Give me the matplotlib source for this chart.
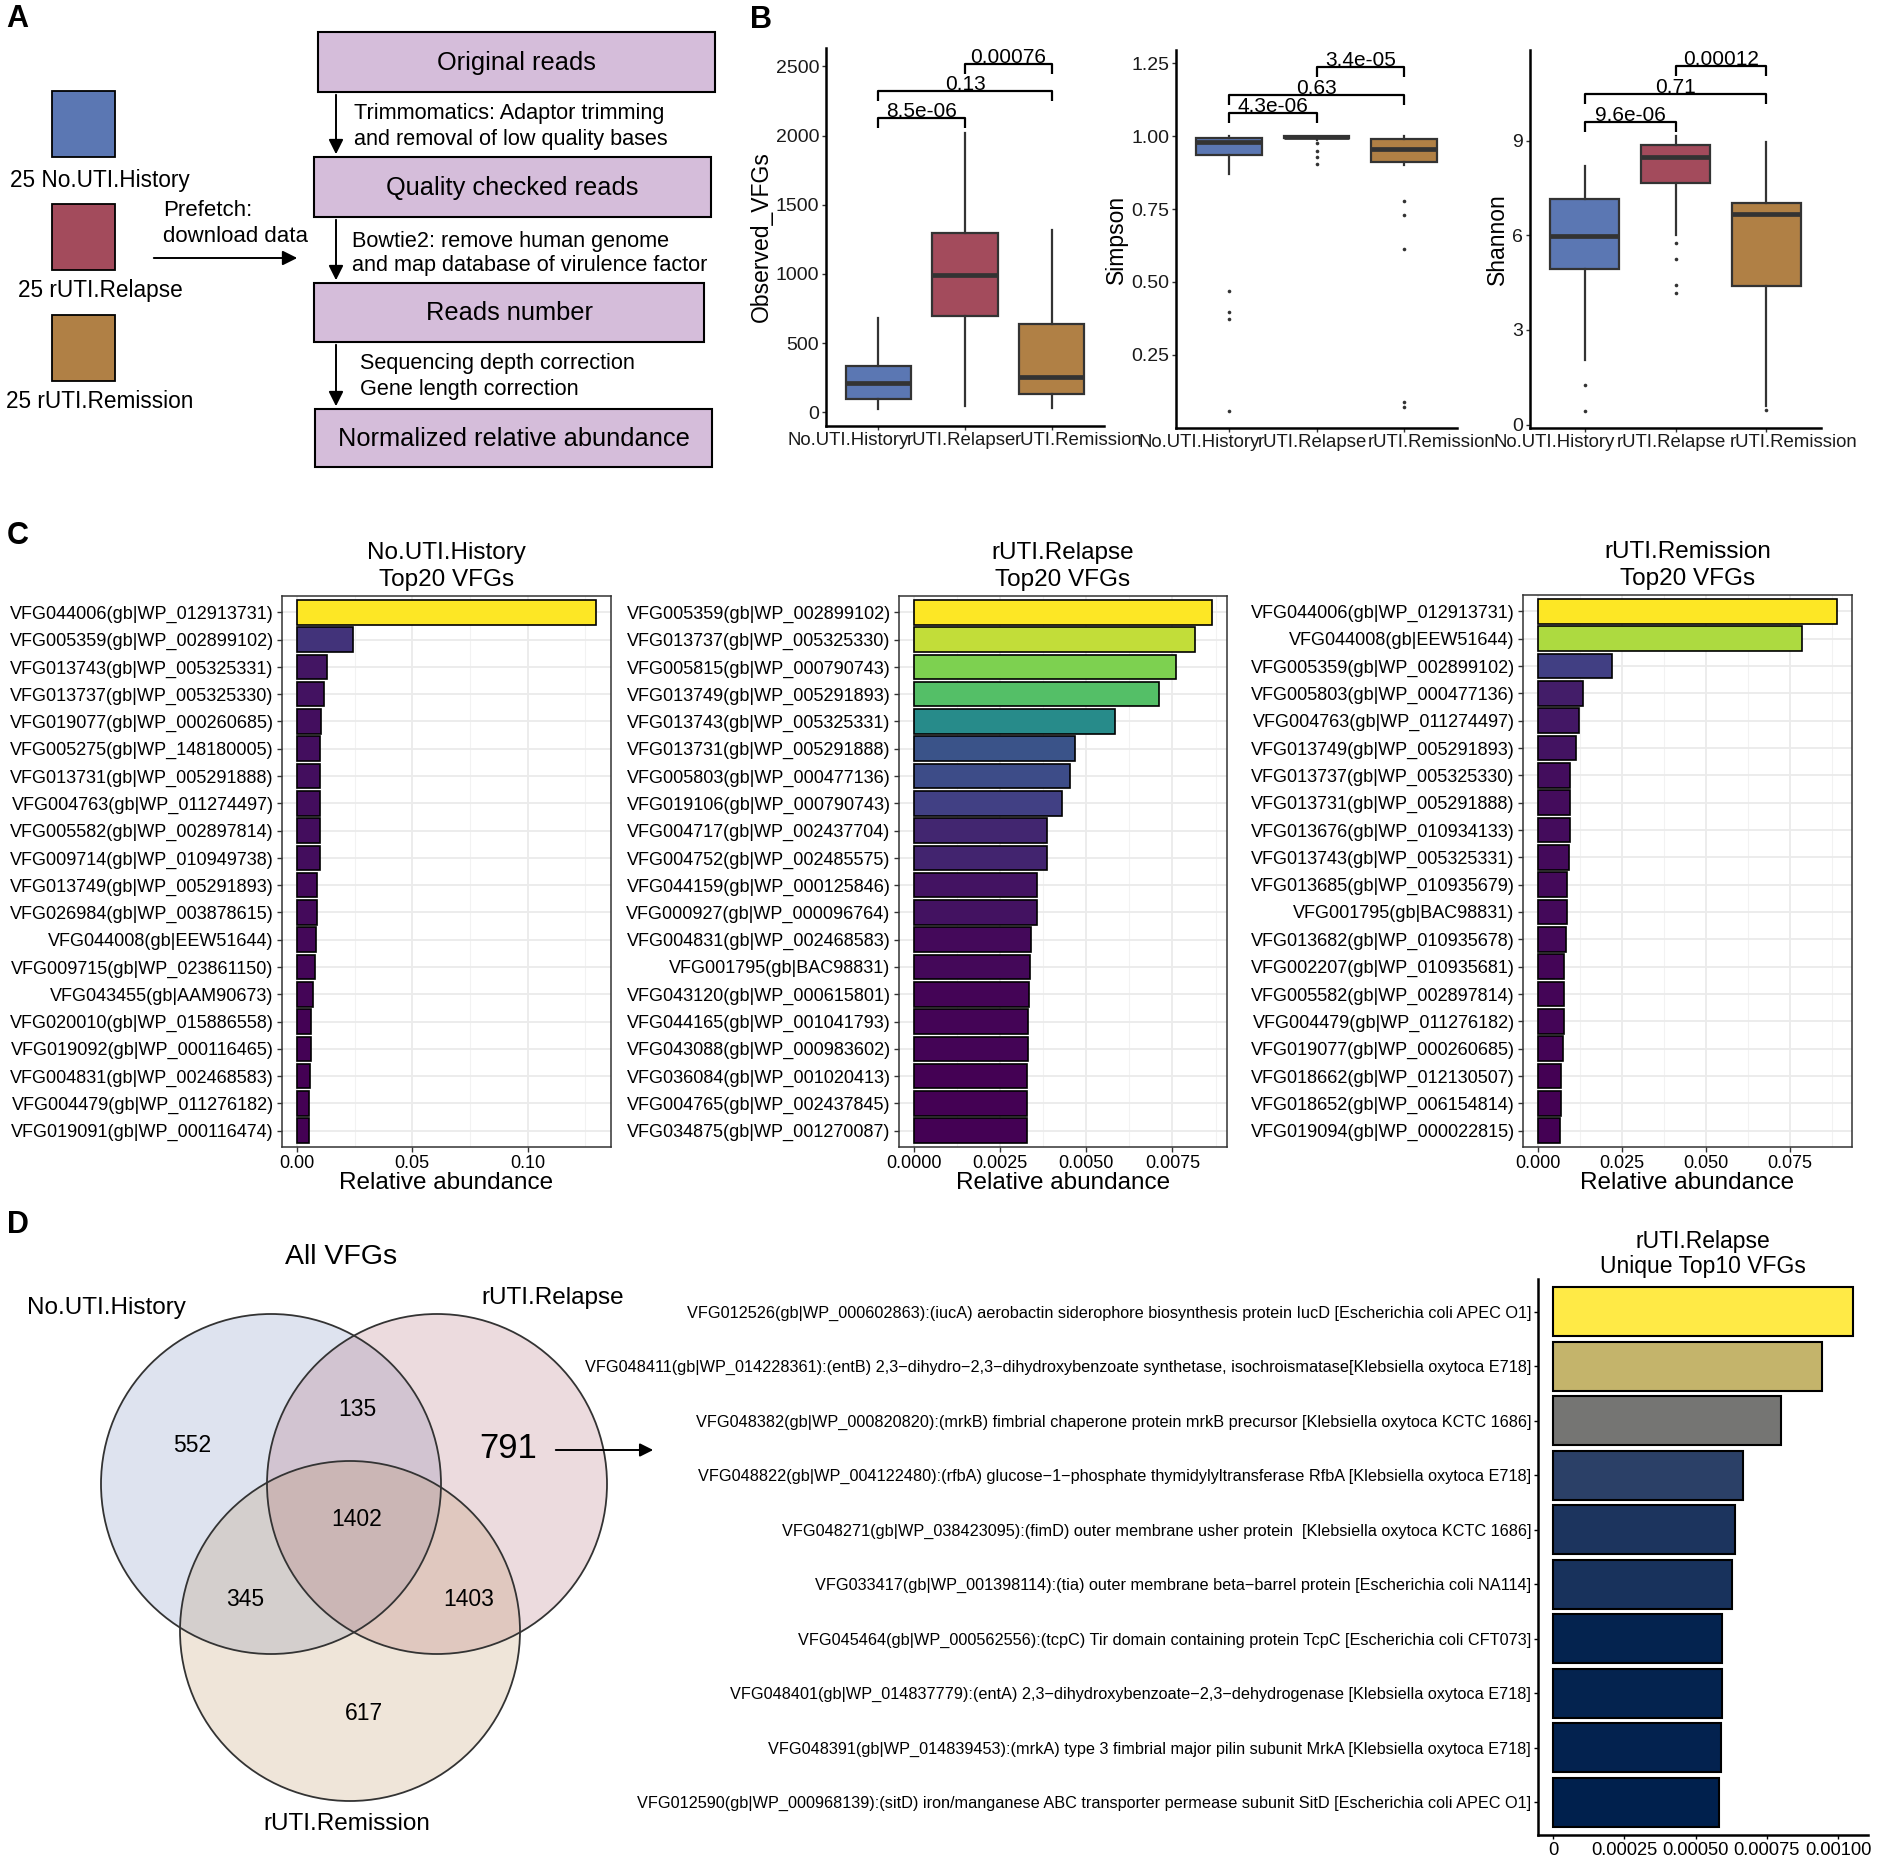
import numpy as np
import matplotlib
matplotlib.use('Agg')
import matplotlib.pyplot as plt
from matplotlib.patches import Rectangle, Circle
from matplotlib import transforms, colors

plt.rcParams['font.family'] = ['Liberation Sans', 'DejaVu Sans']

W, H = 1902, 1866

# ---------------- data ----------------
groups = ['No.UTI.History', 'rUTI.Relapse', 'rUTI.Remission']
group_n = [25, 25, 25]
group_colors = ['#5B77B3', '#A34B5C', '#B08045']

# panel B - box summaries (q1, median, q3, whisker low, whisker high, outliers)
obs_q1 = [99, 697, 133]
obs_med = [210, 991, 253]
obs_q3 = [337, 1295, 636]
obs_lo = [24, 48, 31]
obs_hi = [680, 2018, 1319]
obs_fliers = [[], [], []]
obs_pvals = ['8.5e-06', '0.13', '0.00076']
obs_bracket_y = [2126, 2324, 2519]

simp_q1 = [0.937, 0.993, 0.910]
simp_med = [0.980, 0.997, 0.956]
simp_q3 = [0.995, 0.999, 0.990]
simp_lo = [0.870, 0.988, 0.900]
simp_hi = [1.000, 1.000, 1.000]
simp_fliers = [[0.470, 0.397, 0.373, 0.057], [0.978, 0.948, 0.930, 0.903],
               [0.776, 0.728, 0.613, 0.086, 0.070]]
simp_pvals = ['4.3e-06', '0.63', '3.4e-05']
simp_bracket_y = [1.080, 1.143, 1.237]

shan_q1 = [4.93, 7.67, 4.40]
shan_med = [5.98, 8.49, 6.67]
shan_q3 = [7.16, 8.85, 7.03]
shan_lo = [2.06, 6.01, 0.60]
shan_hi = [8.21, 9.15, 8.97]
shan_fliers = [[1.27, 0.42], [5.77, 5.26, 4.42, 4.17], [0.45]]
shan_pvals = ['9.6e-06', '0.71', '0.00012']
shan_bracket_y = [9.59, 10.47, 11.36]

# panel C - top20 VFGs per group
hist_vfg = ['VFG044006(gb|WP_012913731)', 'VFG005359(gb|WP_002899102)', 'VFG013743(gb|WP_005325331)',
            'VFG013737(gb|WP_005325330)', 'VFG019077(gb|WP_000260685)', 'VFG005275(gb|WP_148180005)',
            'VFG013731(gb|WP_005291888)', 'VFG004763(gb|WP_011274497)', 'VFG005582(gb|WP_002897814)',
            'VFG009714(gb|WP_010949738)', 'VFG013749(gb|WP_005291893)', 'VFG026984(gb|WP_003878615)',
            'VFG044008(gb|EEW51644)', 'VFG009715(gb|WP_023861150)', 'VFG043455(gb|AAM90673)',
            'VFG020010(gb|WP_015886558)', 'VFG019092(gb|WP_000116465)', 'VFG004831(gb|WP_002468583)',
            'VFG004479(gb|WP_011276182)', 'VFG019091(gb|WP_000116474)']
hist_abund = [0.1297, 0.0242, 0.0130, 0.0118, 0.0106, 0.0102, 0.0102, 0.0099, 0.0099, 0.0099,
              0.0089, 0.0089, 0.0082, 0.0077, 0.0068, 0.0061, 0.0061, 0.0056, 0.0053, 0.0053]

rel_vfg = ['VFG005359(gb|WP_002899102)', 'VFG013737(gb|WP_005325330)', 'VFG005815(gb|WP_000790743)',
           'VFG013749(gb|WP_005291893)', 'VFG013743(gb|WP_005325331)', 'VFG013731(gb|WP_005291888)',
           'VFG005803(gb|WP_000477136)', 'VFG019106(gb|WP_000790743)', 'VFG004717(gb|WP_002437704)',
           'VFG004752(gb|WP_002485575)', 'VFG044159(gb|WP_000125846)', 'VFG000927(gb|WP_000096764)',
           'VFG004831(gb|WP_002468583)', 'VFG001795(gb|BAC98831)', 'VFG043120(gb|WP_000615801)',
           'VFG044165(gb|WP_001041793)', 'VFG043088(gb|WP_000983602)', 'VFG036084(gb|WP_001020413)',
           'VFG004765(gb|WP_002437845)', 'VFG034875(gb|WP_001270087)']
rel_abund = [0.00865, 0.00816, 0.00759, 0.00711, 0.00584, 0.00467, 0.00452, 0.00429, 0.00387, 0.00385,
             0.00357, 0.00356, 0.00341, 0.00338, 0.00333, 0.00332, 0.00332, 0.00328, 0.00327, 0.00327]

rem_vfg = ['VFG044006(gb|WP_012913731)', 'VFG044008(gb|EEW51644)', 'VFG005359(gb|WP_002899102)',
           'VFG005803(gb|WP_000477136)', 'VFG004763(gb|WP_011274497)', 'VFG013749(gb|WP_005291893)',
           'VFG013737(gb|WP_005325330)', 'VFG013731(gb|WP_005291888)', 'VFG013676(gb|WP_010934133)',
           'VFG013743(gb|WP_005325331)', 'VFG013685(gb|WP_010935679)', 'VFG001795(gb|BAC98831)',
           'VFG013682(gb|WP_010935678)', 'VFG002207(gb|WP_010935681)', 'VFG005582(gb|WP_002897814)',
           'VFG004479(gb|WP_011276182)', 'VFG019077(gb|WP_000260685)', 'VFG018662(gb|WP_012130507)',
           'VFG018652(gb|WP_006154814)', 'VFG019094(gb|WP_000022815)']
rem_abund = [0.0891, 0.0788, 0.0220, 0.01347, 0.0122, 0.0112, 0.00966, 0.0094, 0.0094, 0.00915,
             0.00864, 0.00864, 0.00839, 0.00775, 0.00775, 0.00763, 0.0075, 0.00686, 0.00674, 0.00661]

# panel D - venn counts
venn_only = [552, 791, 617]          # History only, Relapse only, Remission only
venn_pairs = [135, 345, 1403]        # Hist&Rel, Hist&Rem, Rel&Rem
venn_all = 1402

uniq_vfg = [
    'VFG012526(gb|WP_000602863):(iucA) aerobactin siderophore biosynthesis protein IucD [Escherichia coli APEC O1]',
    'VFG048411(gb|WP_014228361):(entB) 2,3\u2212dihydro\u22122,3\u2212dihydroxybenzoate synthetase, isochroismatase[Klebsiella oxytoca E718]',
    'VFG048382(gb|WP_000820820):(mrkB) fimbrial chaperone protein mrkB precursor [Klebsiella oxytoca KCTC 1686]',
    'VFG048822(gb|WP_004122480):(rfbA) glucose\u22121\u2212phosphate thymidylyltransferase RfbA [Klebsiella oxytoca E718]',
    'VFG048271(gb|WP_038423095):(fimD) outer membrane usher protein  [Klebsiella oxytoca KCTC 1686]',
    'VFG033417(gb|WP_001398114):(tia) outer membrane beta\u2212barrel protein [Escherichia coli NA114]',
    'VFG045464(gb|WP_000562556):(tcpC) Tir domain containing protein TcpC [Escherichia coli CFT073]',
    'VFG048401(gb|WP_014837779):(entA) 2,3\u2212dihydroxybenzoate\u22122,3\u2212dehydrogenase [Klebsiella oxytoca E718]',
    'VFG048391(gb|WP_014839453):(mrkA) type 3 fimbrial major pilin subunit MrkA [Klebsiella oxytoca E718]',
    'VFG012590(gb|WP_000968139):(sitD) iron/manganese ABC transporter permease subunit SitD [Escherichia coli APEC O1]']
uniq_abund = [0.001052, 0.000945, 0.000800, 0.000666, 0.000637, 0.000629, 0.000591, 0.000591, 0.000588, 0.000582]

# ---------------- figure ----------------
fig = plt.figure(figsize=(W / 100, H / 100), dpi=100)

bg = fig.add_axes([0, 0, 1, 1])
bg.set_xlim(0, W)
bg.set_ylim(H, 0)
bg.axis('off')


def px_axes(left, top, right, bottom):
    return fig.add_axes([left / W, 1 - bottom / H, (right - left) / W, (bottom - top) / H])


# panel letters
for letter, x, y in [('A', 6, 19), ('B', 750, 20), ('C', 7, 536), ('D', 7, 1225)]:
    bg.text(x, y, letter, fontsize=22, fontweight='bold', ha='left', va='center')

# ---------------- A: workflow ----------------
sq_tops = [91, 204, 315]
label_y = [180, 291, 402]
for i in range(3):
    bg.add_patch(Rectangle((52, sq_tops[i]), 63, 66, facecolor=group_colors[i], edgecolor='black', lw=1.3))
    bg.text(100, label_y[i], f'{group_n[i]} {groups[i]}', fontsize=16.3, ha='center', va='center')

bg.text(163, 210, 'Prefetch:', fontsize=16, ha='left', va='center')
bg.text(163, 236, 'download data', fontsize=16, ha='left', va='center')
bg.annotate('', xy=(300, 258), xytext=(151, 258),
            arrowprops=dict(arrowstyle='-|>', color='black', lw=1.4, mutation_scale=22))

steps = ['Original reads', 'Quality checked reads', 'Reads number', 'Normalized relative abundance']
boxes = [(318, 32, 715, 92), (314, 157, 711, 217), (314, 283, 704, 342), (315, 409, 712, 467)]
for name, (l, t, r, b) in zip(steps, boxes):
    bg.add_patch(Rectangle((l, t), r - l, b - t, facecolor='#D5BDDA', edgecolor='black', lw=1.5))
    bg.text((l + r) / 2, (t + b) / 2 + 1, name, fontsize=18.3, ha='center', va='center')

for i in range(3):
    bg.annotate('', xy=(336, boxes[i + 1][1]), xytext=(336, boxes[i][3]),
                arrowprops=dict(arrowstyle='-|>', color='black', lw=1.4, mutation_scale=22))

notes = [(354, 113, 'Trimmomatics: Adaptor trimming'), (354, 139, 'and removal of low quality bases'),
         (352, 241, 'Bowtie2: remove human genome'), (352, 266, 'and map database of virulence factor'),
         (360, 363, 'Sequencing depth correction'), (360, 390, 'Gene length correction')]
for x, y, s in notes:
    bg.text(x, y, s, fontsize=15.6, ha='left', va='center')

# ---------------- B: alpha diversity ----------------
def box_panel(ax, q1, med, q3, lo, hi, fliers, ylabel, ylim, yticks, yticklabels, pvals, bracket_y):
    stats = [dict(q1=q1[i], med=med[i], q3=q3[i], whislo=lo[i], whishi=hi[i], fliers=fliers[i])
             for i in range(3)]
    bp = ax.bxp(stats, positions=[1, 2, 3], widths=0.75, patch_artist=True, showcaps=False,
                boxprops=dict(edgecolor='#333333', linewidth=1.6),
                medianprops=dict(color='#333333', linewidth=3.4),
                whiskerprops=dict(color='#333333', linewidth=1.6),
                flierprops=dict(marker='o', markersize=2.6, markerfacecolor='#333333',
                                markeredgecolor='none'))
    for patch, c in zip(bp['boxes'], group_colors):
        patch.set_facecolor(c)
    ax.set_xlim(0.4, 3.6)
    ax.set_ylim(*ylim)
    ax.set_yticks(yticks, yticklabels)
    ax.set_xticks([1, 2, 3], ['', '', ''])
    for s in ['top', 'right']:
        ax.spines[s].set_visible(False)
    for s in ['left', 'bottom']:
        ax.spines[s].set_linewidth(1.8)
    ax.tick_params(axis='both', length=3, width=1, color='#333333', labelsize=14,
                   labelcolor='#1a1a1a', pad=2)
    ax.set_ylabel(ylabel, fontsize=16.5, labelpad=2)
    # group labels, sitting side by side under the axis
    shift = [-30, -4, 27]
    for i, g in enumerate(groups):
        tr = transforms.offset_copy(transforms.blended_transform_factory(ax.transData, ax.transAxes),
                                    fig=fig, x=shift[i], y=-6, units='dots')
        ax.text(i + 1, 0, g, transform=tr, fontsize=13.4, ha='center', va='top', color='#1a1a1a')
    tip = 0.027 * (ylim[1] - ylim[0])
    pairs = [(1, 2), (1, 3), (2, 3)]
    for (a, b), p, y in zip(pairs, pvals, bracket_y):
        ax.plot([a, a, b, b], [y - tip, y, y, y - tip], color='black', lw=1.6,
                solid_capstyle='butt', clip_on=False)
        tr = transforms.offset_copy(ax.transData, fig=fig, x=0, y=1, units='dots')
        ax.text((a + b) / 2, y, p, transform=tr, fontsize=15, ha='center', va='baseline')


axb1 = px_axes(826, 48, 1104, 426)
box_panel(axb1, obs_q1, obs_med, obs_q3, obs_lo, obs_hi, obs_fliers, 'Observed_VFGs',
          (-99, 2633), [0, 500, 1000, 1500, 2000, 2500], ['0', '500', '1000', '1500', '2000', '2500'],
          obs_pvals, obs_bracket_y)
axb2 = px_axes(1176, 50, 1457, 428)
box_panel(axb2, simp_q1, simp_med, simp_q3, simp_lo, simp_hi, simp_fliers, 'Simpson',
          (-0.002, 1.296), [0.25, 0.5, 0.75, 1.0, 1.25], ['0.25', '0.50', '0.75', '1.00', '1.25'],
          simp_pvals, simp_bracket_y)
axb3 = px_axes(1530, 50, 1821, 428)
box_panel(axb3, shan_q1, shan_med, shan_q3, shan_lo, shan_hi, shan_fliers, 'Shannon',
          (-0.105, 11.87), [0, 3, 6, 9], ['0', '3', '6', '9'], shan_pvals, shan_bracket_y)

# ---------------- C: top20 bars ----------------
gg_viridis = colors.LinearSegmentedColormap.from_list(
    'ggviridis', ['#440154', '#414487', '#2A788E', '#22A884', '#7AD151', '#FDE725'])
gg_cividis = colors.LinearSegmentedColormap.from_list(
    'ggcividis', ['#00204D', '#31446B', '#666970', '#958F78', '#CBBA69', '#FFEA46'])


def top_panel(ax, names, values, title, ticks, ticklabels):
    values = np.array(values)
    y = np.arange(len(values))
    norm = colors.Normalize(values.min(), values.max())
    ax.barh(y, values, height=0.9, color=gg_viridis(norm(values)), edgecolor='black',
            linewidth=1.2, zorder=3)
    ax.set_ylim(len(values) - 0.4, -0.6)
    vmax = values.max()
    ax.set_xlim(-0.05 * vmax, 1.05 * vmax)
    ax.set_yticks(y, names)
    ax.set_xticks(ticks, ticklabels)
    step = ticks[1] - ticks[0]
    ax.set_xticks(np.arange(ticks[0] + step / 2, 1.05 * vmax, step), minor=True)
    ax.grid(True, which='major', color='#EBEBEB', lw=1.3, zorder=0)
    ax.grid(True, which='minor', axis='x', color='#F2F2F2', lw=0.8, zorder=0)
    ax.set_axisbelow(True)
    for s in ax.spines.values():
        s.set_color('#333333')
        s.set_linewidth(1.1)
    ax.tick_params(axis='both', which='major', length=3.5, width=1, color='#333333',
                   labelsize=13, labelcolor='black', pad=2.5)
    ax.tick_params(axis='x', which='minor', length=0)
    ax.set_xlabel('Relative abundance', fontsize=17.5, labelpad=0)
    ax.set_title(title, fontsize=17.5, pad=7, linespacing=1.3)


axc1 = px_axes(282, 596, 611, 1147)
top_panel(axc1, hist_vfg, hist_abund, 'No.UTI.History\nTop20 VFGs', [0, 0.05, 0.10], ['0.00', '0.05', '0.10'])
axc2 = px_axes(899, 596, 1227, 1147)
top_panel(axc2, rel_vfg, rel_abund, 'rUTI.Relapse\nTop20 VFGs', [0, 0.0025, 0.005, 0.0075],
          ['0.0000', '0.0025', '0.0050', '0.0075'])
axc3 = px_axes(1523, 595, 1852, 1147)
top_panel(axc3, rem_vfg, rem_abund, 'rUTI.Remission\nTop20 VFGs', [0, 0.025, 0.05, 0.075],
          ['0.000', '0.025', '0.050', '0.075'])

# ---------------- D: venn ----------------
centers = [(271, 1484), (437, 1484), (350, 1631)]
for (cx, cy), c in zip(centers, group_colors):
    bg.add_patch(Circle((cx, cy), 170, facecolor=c, alpha=0.2, edgecolor='none'))
for cx, cy in centers:
    bg.add_patch(Circle((cx, cy), 170, facecolor='none', edgecolor='#333333', lw=1.3))

bg.text(341, 1257, 'All VFGs', fontsize=20.5, ha='center', va='center')
bg.text(106, 1308, groups[0], fontsize=17.5, ha='center', va='center')
bg.text(553, 1298, groups[1], fontsize=17.5, ha='center', va='center')
bg.text(347, 1824, groups[2], fontsize=17.5, ha='center', va='center')

only_pos = [(192, 1446), (508, 1448), (364, 1714)]
for (x, y), n, fs in zip(only_pos, venn_only, [16.5, 25, 16.5]):
    bg.text(x, y, str(n), fontsize=fs, ha='center', va='center')
pair_pos = [(357, 1409), (245, 1599), (469, 1599)]
for (x, y), n in zip(pair_pos, venn_pairs):
    bg.text(x, y, str(n), fontsize=16.5, ha='center', va='center')
bg.text(357, 1519, str(venn_all), fontsize=16.5, ha='center', va='center')
bg.annotate('', xy=(656, 1450), xytext=(553, 1450),
            arrowprops=dict(arrowstyle='-|>', color='black', lw=1.4, mutation_scale=20))

# ---------------- D: unique top10 ----------------
axd = px_axes(1538, 1279, 1868, 1835)
uv = np.array(uniq_abund)
yd = np.arange(len(uv))
nd = colors.Normalize(uv.min(), uv.max())
axd.barh(yd, uv, height=0.9, color=gg_cividis(nd(uv)), edgecolor='black', linewidth=1.5)
axd.set_ylim(len(uv) - 0.4, -0.6)
axd.set_xlim(-0.05 * uv.max(), 1.05 * uv.max())
axd.set_yticks(yd, uniq_vfg)
axd.set_xticks([0, 0.00025, 0.0005, 0.00075, 0.001], ['0', '0.00025', '0.00050', '0.00075', '0.00100'])
for s in ['top', 'right']:
    axd.spines[s].set_visible(False)
for s in ['left', 'bottom']:
    axd.spines[s].set_linewidth(1.8)
axd.tick_params(axis='y', length=3, width=1, labelsize=11.7, pad=2)
axd.tick_params(axis='x', length=3, width=1, labelsize=13.2, pad=2)
axd.set_title('rUTI.Relapse\nUnique Top10 VFGs', fontsize=16.5, pad=4, linespacing=1.15)

fig.savefig('out.png', dpi=100)
